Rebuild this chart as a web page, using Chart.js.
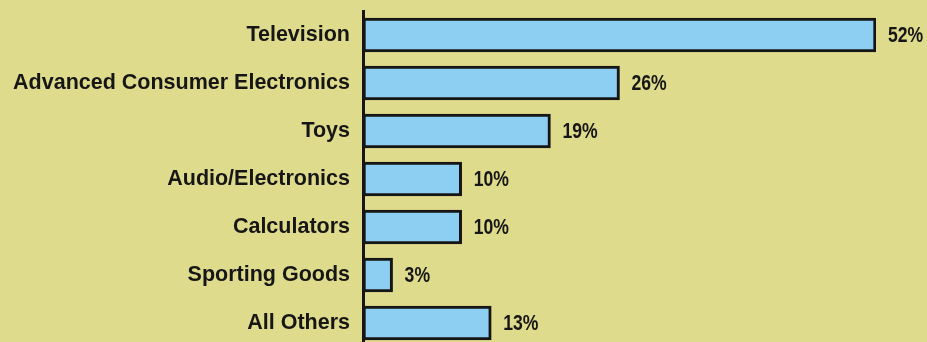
<!DOCTYPE html>
<html>
<head>
<meta charset="utf-8">
<script src="https://cdn.jsdelivr.net/npm/chart.js@4"></script>
<style>
  html, body { margin: 0; padding: 0; background: #dedb8c; overflow: hidden; }
</style>
</head>
<body>
<canvas id="shareChart" width="927" height="350"></canvas>
<script>
// Parts de marché par catégorie (%)
const categories = ['Television', 'Advanced Consumer Electronics', 'Toys', 'Audio/Electronics',
                    'Calculators', 'Sporting Goods', 'All Others'];
const shares = [52, 26, 19, 10, 10, 3, 13];
const valueLabels = ['52%', '26%', '19%', '10%', '10%', '3%', '13%'];

const ink = '#161616';

// Affiche la valeur à droite de chaque barre (police étroite simulée)
const valueLabelPlugin = {
    id: 'valueLabels',
    afterDatasetsDraw(chart) {
        const ctx = chart.ctx;
        const meta = chart.getDatasetMeta(0);
        const squeeze = 0.8;
        ctx.save();
        ctx.font = "bold 22px 'Liberation Sans', Arial, sans-serif";
        ctx.fillStyle = ink;
        ctx.textAlign = 'left';
        ctx.textBaseline = 'middle';
        meta.data.forEach((bar, i) => {
            ctx.save();
            ctx.translate(bar.x + 12, bar.y + 1);
            ctx.scale(squeeze, 1);
            ctx.fillText(valueLabels[i], 0, 0);
            ctx.restore();
        });
        ctx.restore();
    }
};

new Chart(document.getElementById('shareChart').getContext('2d'), {
    type: 'bar',
    data: {
        labels: categories,
        datasets: [{
            data: shares,
            backgroundColor: '#8dcff2',
            borderColor: ink,
            borderWidth: 3,
            borderSkipped: false,
            barThickness: 34
        }]
    },
    options: {
        indexAxis: 'y',
        responsive: false,
        animation: false,
        layout: { padding: { left: 0, right: 51, top: 11, bottom: 3 } },
        plugins: {
            legend: { display: false },
            tooltip: { enabled: false }
        },
        scales: {
            x: {
                display: false,
                min: 0,
                max: 52
            },
            y: {
                afterFit: (scale) => {
                    scale.width = 363;
                    scale.paddingTop = 0;
                    scale.paddingBottom = 0;
                },
                grid: { display: false, drawTicks: false },
                border: { display: true, color: ink, width: 3 },
                ticks: {
                    padding: 13,
                    color: ink,
                    font: { family: "'Liberation Sans', Arial, sans-serif", size: 21.5, weight: 'bold' }
                }
            }
        }
    },
    plugins: [valueLabelPlugin]
});
</script>
</body>
</html>
